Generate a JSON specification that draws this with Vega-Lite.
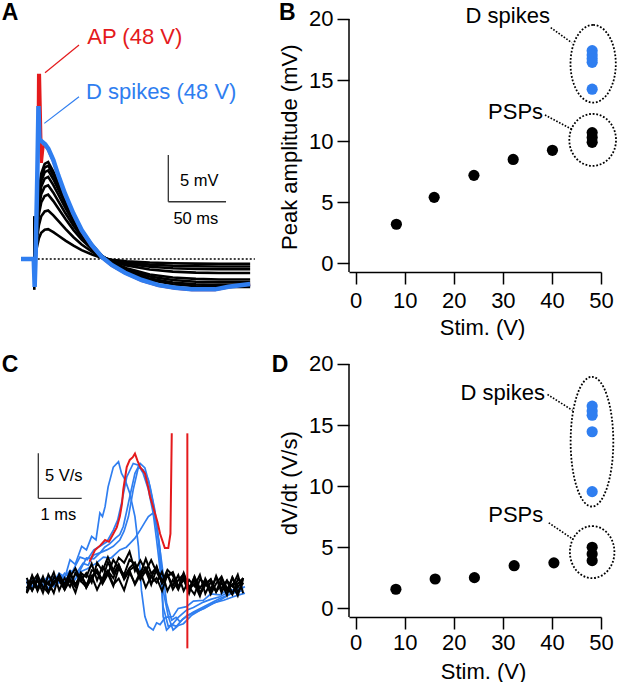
{
  "$schema": "https://vega.github.io/schema/vega-lite/v6.json",
  "padding": 0,
  "background": "white",
  "config": {
    "view": {"stroke": null},
    "font": "Liberation Sans",
    "axis": {
      "domainColor": "black", "tickColor": "black", "labelColor": "black", "titleColor": "black",
      "labelFont": "Liberation Sans", "titleFont": "Liberation Sans",
      "labelFontSize": 22, "titleFontSize": 22, "titleFontWeight": "normal",
      "tickSize": 12, "tickWidth": 1.5, "domainWidth": 1.5, "grid": false,
      "labelFlush": false, "labelOverlap": false
    }
  },
  "columns": 2,
  "spacing": {"row": 68, "column": 79},
  "bounds": "flush",
  "concat": [
    {
      "width": 270, "height": 272,
      "encoding": {
        "x": {"field": "t", "type": "quantitative", "scale": {"domain": [-29.72, 204.2], "nice": false, "zero": false}, "axis": null},
        "y": {"field": "v", "type": "quantitative", "scale": {"domain": [-1.39, 27.76], "nice": false, "zero": false}, "axis": null}
      },
      "layer": [
        {"data": {"name": "Alines"}, "transform": [{"filter": "datum.k=='base'"}], "mark": {"type": "rule", "color": "black", "strokeWidth": 1.5, "strokeDash": [2, 2]}, "encoding": {"x2": {"field": "t2"}, "y2": {"field": "v2"}}},
        {"data": {"name": "Ablack"}, "mark": {"type": "line", "color": "black", "strokeWidth": 2.6}, "encoding": {"detail": {"field": "s"}}},
        {"data": {"name": "Ared"}, "mark": {"type": "line", "color": "#e41a1c", "strokeWidth": 3}, "encoding": {"detail": {"field": "s"}}},
        {"data": {"name": "Ablue"}, "mark": {"type": "line", "color": "#2f7ef0", "strokeWidth": 4.5}, "encoding": {"detail": {"field": "s"}}},
        {"data": {"name": "Alines"}, "transform": [{"filter": "datum.k=='red'"}], "mark": {"type": "rule", "color": "#e41a1c", "strokeWidth": 1.2}, "encoding": {"x2": {"field": "t2"}, "y2": {"field": "v2"}}},
        {"data": {"name": "Alines"}, "transform": [{"filter": "datum.k=='blue'"}], "mark": {"type": "rule", "color": "#2f7ef0", "strokeWidth": 1.2}, "encoding": {"x2": {"field": "t2"}, "y2": {"field": "v2"}}},
        {"data": {"name": "Alines"}, "transform": [{"filter": "datum.k=='bar'"}], "mark": {"type": "rule", "color": "#333333", "strokeWidth": 1.3}, "encoding": {"x2": {"field": "t2"}, "y2": {"field": "v2"}}},
        {"data": {"name": "Atext"}, "transform": [{"filter": "datum.k=='red'"}], "mark": {"type": "text", "align": "left", "baseline": "middle", "fontSize": 22, "color": "#e41a1c"}, "encoding": {"text": {"field": "label"}}},
        {"data": {"name": "Atext"}, "transform": [{"filter": "datum.k=='blue'"}], "mark": {"type": "text", "align": "left", "baseline": "middle", "fontSize": 22, "color": "#2f7ef0"}, "encoding": {"text": {"field": "label"}}},
        {"data": {"name": "Atext"}, "transform": [{"filter": "datum.k=='bar'"}], "mark": {"type": "text", "align": "left", "baseline": "middle", "fontSize": 16.5, "color": "black"}, "encoding": {"text": {"field": "label"}}},
        {"data": {"name": "Atext"}, "transform": [{"filter": "datum.k=='barc'"}], "mark": {"type": "text", "align": "center", "baseline": "middle", "fontSize": 16.5, "color": "black"}, "encoding": {"text": {"field": "label"}}},
        {"data": {"name": "Atext"}, "transform": [{"filter": "datum.k=='letter'"}], "mark": {"type": "text", "align": "left", "baseline": "middle", "fontSize": 23, "fontWeight": "bold", "color": "black"}, "encoding": {"text": {"field": "label"}}}
      ]
    },
    {
      "width": 252, "height": 272,
      "encoding": {
        "x": {"field": "x", "type": "quantitative", "scale": {"domain": [-1.36, 50], "nice": false, "zero": false},
              "axis": {"values": [0, 10, 20, 30, 40, 50], "title": "Stim. (V)", "labelPadding": 6, "titleX": 133, "titleY": 55, "titleAlign": "center", "titleBaseline": "middle"}},
        "y": {"field": "y", "type": "quantitative", "scale": {"domain": [-0.71, 21.55], "nice": false, "zero": false},
              "axis": {"values": [0, 5, 10, 15, 20], "domain": false, "title": "Peak amplitude (mV)", "labelPadding": 4, "titleX": -60, "titleY": 146.7, "titleAlign": "center", "titleBaseline": "middle"}}
      },
      "layer": [
        {"data": {"name": "Blines"}, "transform": [{"filter": "datum.k=='axis'"}], "mark": {"type": "rule", "color": "black", "strokeWidth": 1.5}, "encoding": {"x2": {"field": "x2"}, "y2": {"field": "y2"}}},
        {"data": {"name": "Blines"}, "transform": [{"filter": "datum.k=='lead'"}], "mark": {"type": "rule", "color": "black", "strokeWidth": 1.6, "strokeDash": [1.6, 1.6]}, "encoding": {"x2": {"field": "x2"}, "y2": {"field": "y2"}}},
        {"data": {"name": "Bell"}, "transform": [{"filter": "datum.k=='spikes'"}], "mark": {"type": "point", "shape": "M0,-1A0.583,1,0,0,1,0,1A0.583,1,0,0,1,0,-1Z", "size": 6037, "filled": false, "color": "black", "strokeWidth": 1.8, "strokeDash": [1.8, 1.8], "opacity": 1}},
        {"data": {"name": "Bell"}, "transform": [{"filter": "datum.k=='PSPs'"}], "mark": {"type": "point", "shape": "M0,-1A0.898,1,0,0,1,0,1A0.898,1,0,0,1,0,-1Z", "size": 2704, "filled": false, "color": "black", "strokeWidth": 1.8, "strokeDash": [1.8, 1.8], "opacity": 1}},
        {"data": {"name": "Bpts"}, "mark": {"type": "circle", "size": 125, "opacity": 1},
         "encoding": {"color": {"field": "g", "type": "nominal", "scale": {"domain": ["PSP", "spike"], "range": ["black", "#2f7ef0"]}, "legend": null}}},
        {"data": {"name": "Btext"}, "transform": [{"filter": "datum.k=='note'"}], "mark": {"type": "text", "align": "right", "baseline": "middle", "fontSize": 22, "color": "black"}, "encoding": {"text": {"field": "label"}}},
        {"data": {"name": "Btext"}, "transform": [{"filter": "datum.k=='letter'"}], "mark": {"type": "text", "align": "left", "baseline": "middle", "fontSize": 23, "fontWeight": "bold", "color": "black"}, "encoding": {"text": {"field": "label"}}}
      ]
    },
    {
      "width": 270, "height": 277,
      "encoding": {
        "x": {"field": "t", "type": "quantitative", "scale": {"domain": [-0.617, 5.619], "nice": false, "zero": false}, "axis": null},
        "y": {"field": "v", "type": "quantitative", "scale": {"domain": [-3.556, 27.22], "nice": false, "zero": false}, "axis": null}
      },
      "layer": [
        {"data": {"name": "Cblue"}, "mark": {"type": "line", "color": "#2f7ef0", "strokeWidth": 1.7}, "encoding": {"detail": {"field": "s"}}},
        {"data": {"name": "Cblack"}, "mark": {"type": "line", "color": "black", "strokeWidth": 2}, "encoding": {"detail": {"field": "s"}}},
        {"data": {"name": "Cred"}, "mark": {"type": "line", "color": "#e41a1c", "strokeWidth": 2}, "encoding": {"detail": {"field": "s"}}},
        {"data": {"name": "Clines"}, "mark": {"type": "rule", "color": "#333333", "strokeWidth": 1.3}, "encoding": {"x2": {"field": "t2"}, "y2": {"field": "v2"}}},
        {"data": {"name": "Ctext"}, "transform": [{"filter": "datum.k=='bar'"}], "mark": {"type": "text", "align": "left", "baseline": "middle", "fontSize": 16.5, "color": "black"}, "encoding": {"text": {"field": "label"}}},
        {"data": {"name": "Ctext"}, "transform": [{"filter": "datum.k=='barc'"}], "mark": {"type": "text", "align": "center", "baseline": "middle", "fontSize": 16.5, "color": "black"}, "encoding": {"text": {"field": "label"}}},
        {"data": {"name": "Ctext"}, "transform": [{"filter": "datum.k=='letter'"}], "mark": {"type": "text", "align": "left", "baseline": "middle", "fontSize": 23, "fontWeight": "bold", "color": "black"}, "encoding": {"text": {"field": "label"}}}
      ]
    },
    {
      "width": 252, "height": 277,
      "encoding": {
        "x": {"field": "x", "type": "quantitative", "scale": {"domain": [-1.36, 50], "nice": false, "zero": false},
              "axis": {"values": [0, 10, 20, 30, 40, 50], "title": "Stim. (V)", "labelPadding": 3, "titleX": 134, "titleY": 54, "titleAlign": "center", "titleBaseline": "middle"}},
        "y": {"field": "y", "type": "quantitative", "scale": {"domain": [-0.71, 21.96], "nice": false, "zero": false},
              "axis": {"values": [0, 5, 10, 15, 20], "domain": false, "title": "dV/dt (V/s)", "labelPadding": 4, "titleX": -60, "titleY": 142.7, "titleAlign": "center", "titleBaseline": "middle"}}
      },
      "layer": [
        {"data": {"name": "Dlines"}, "transform": [{"filter": "datum.k=='axis'"}], "mark": {"type": "rule", "color": "black", "strokeWidth": 1.5}, "encoding": {"x2": {"field": "x2"}, "y2": {"field": "y2"}}},
        {"data": {"name": "Dlines"}, "transform": [{"filter": "datum.k=='lead'"}], "mark": {"type": "rule", "color": "black", "strokeWidth": 1.6, "strokeDash": [1.6, 1.6]}, "encoding": {"x2": {"field": "x2"}, "y2": {"field": "y2"}}},
        {"data": {"name": "Dell"}, "transform": [{"filter": "datum.k=='spikes'"}], "mark": {"type": "point", "shape": "M0,-1A0.329,1,0,0,1,0,1A0.329,1,0,0,1,0,-1Z", "size": 16822, "filled": false, "color": "black", "strokeWidth": 1.8, "strokeDash": [1.8, 1.8], "opacity": 1}},
        {"data": {"name": "Dell"}, "transform": [{"filter": "datum.k=='PSPs'"}], "mark": {"type": "point", "shape": "M0,-1A0.856,1,0,0,1,0,1A0.856,1,0,0,1,0,-1Z", "size": 2704, "filled": false, "color": "black", "strokeWidth": 1.8, "strokeDash": [1.8, 1.8], "opacity": 1}},
        {"data": {"name": "Dpts"}, "mark": {"type": "circle", "size": 125, "opacity": 1},
         "encoding": {"color": {"field": "g", "type": "nominal", "scale": {"domain": ["PSP", "spike"], "range": ["black", "#2f7ef0"]}, "legend": null}}},
        {"data": {"name": "Dtext"}, "transform": [{"filter": "datum.k=='note'"}], "mark": {"type": "text", "align": "right", "baseline": "middle", "fontSize": 22, "color": "black"}, "encoding": {"text": {"field": "label"}}},
        {"data": {"name": "Dtext"}, "transform": [{"filter": "datum.k=='letter'"}], "mark": {"type": "text", "align": "left", "baseline": "middle", "fontSize": 23, "fontWeight": "bold", "color": "black"}, "encoding": {"text": {"field": "label"}}}
      ]
    }
  ],
  "datasets": {
    "Alines": [
      {"k": "base", "t": -10.9, "v": 0, "t2": 191.1, "v2": 0},
      {"k": "red", "t": 9.27, "v": 19.97, "t2": 38.74, "v2": 22.94},
      {"k": "blue", "t": 8.67, "v": 14.54, "t2": 38.74, "v2": 17.4},
      {"k": "bar", "t": 116.1, "v": 11.15, "t2": 116.1, "v2": 6.14},
      {"k": "bar", "t": 116.1, "v": 6.14, "t2": 166.1, "v2": 6.14}
    ],
    "Atext": [
      {"k": "red", "label": "AP (48 V)", "t": 45.9, "v": 23.78},
      {"k": "blue", "label": "D spikes (48 V)", "t": 44.8, "v": 17.85},
      {"k": "bar", "label": "5 mV", "t": 126.3, "v": 8.41},
      {"k": "barc", "label": "50 ms", "t": 140.0, "v": 4.31},
      {"k": "letter", "label": "A", "t": -28.25, "v": 26.37}
    ],
    "Ablack": [
      {"s": "stim", "t": 0, "v": 4.6}, {"s": "stim", "t": 0, "v": -3.3},
      {"s": "b1", "t": -11.5, "v": 0}, {"s": "b1", "t": -0.5, "v": 0}, {"s": "b1", "t": 0.5, "v": 0}, {"s": "b1", "t": 2, "v": 1.12}, {"s": "b1", "t": 4, "v": 2.24}, {"s": "b1", "t": 6, "v": 2.82}, {"s": "b1", "t": 9, "v": 3.14}, {"s": "b1", "t": 12, "v": 3.2}, {"s": "b1", "t": 16.5, "v": 2.88}, {"s": "b1", "t": 21, "v": 2.5}, {"s": "b1", "t": 27, "v": 1.98}, {"s": "b1", "t": 34, "v": 1.44}, {"s": "b1", "t": 41, "v": 0.96}, {"s": "b1", "t": 50, "v": 0.48}, {"s": "b1", "t": 58, "v": 0.13}, {"s": "b1", "t": 67, "v": -0.08}, {"s": "b1", "t": 80, "v": -0.23}, {"s": "b1", "t": 100, "v": -0.38}, {"s": "b1", "t": 120, "v": -0.45}, {"s": "b1", "t": 140, "v": -0.49}, {"s": "b1", "t": 160, "v": -0.5}, {"s": "b1", "t": 187, "v": -0.5},
      {"s": "b2", "t": -11.5, "v": 0}, {"s": "b2", "t": -0.5, "v": 0}, {"s": "b2", "t": 0.5, "v": 0}, {"s": "b2", "t": 2, "v": 1.82}, {"s": "b2", "t": 4, "v": 3.64}, {"s": "b2", "t": 6, "v": 4.58}, {"s": "b2", "t": 9, "v": 5.1}, {"s": "b2", "t": 12, "v": 5.2}, {"s": "b2", "t": 16.5, "v": 4.68}, {"s": "b2", "t": 21, "v": 4.06}, {"s": "b2", "t": 27, "v": 3.22}, {"s": "b2", "t": 34, "v": 2.34}, {"s": "b2", "t": 41, "v": 1.56}, {"s": "b2", "t": 50, "v": 0.78}, {"s": "b2", "t": 58, "v": 0.21}, {"s": "b2", "t": 67, "v": -0.12}, {"s": "b2", "t": 80, "v": -0.36}, {"s": "b2", "t": 100, "v": -0.6}, {"s": "b2", "t": 120, "v": -0.72}, {"s": "b2", "t": 140, "v": -0.78}, {"s": "b2", "t": 160, "v": -0.8}, {"s": "b2", "t": 187, "v": -0.8},
      {"s": "b3", "t": -11.5, "v": 0}, {"s": "b3", "t": -0.5, "v": 0}, {"s": "b3", "t": 0.5, "v": 0}, {"s": "b3", "t": 2, "v": 2.42}, {"s": "b3", "t": 4, "v": 4.83}, {"s": "b3", "t": 6, "v": 6.07}, {"s": "b3", "t": 9, "v": 6.76}, {"s": "b3", "t": 12, "v": 6.9}, {"s": "b3", "t": 16.5, "v": 6.21}, {"s": "b3", "t": 21, "v": 5.38}, {"s": "b3", "t": 27, "v": 4.28}, {"s": "b3", "t": 34, "v": 3.1}, {"s": "b3", "t": 41, "v": 2.07}, {"s": "b3", "t": 50, "v": 1.04}, {"s": "b3", "t": 58, "v": 0.28}, {"s": "b3", "t": 67, "v": -0.17}, {"s": "b3", "t": 80, "v": -0.5}, {"s": "b3", "t": 100, "v": -0.83}, {"s": "b3", "t": 120, "v": -0.99}, {"s": "b3", "t": 140, "v": -1.07}, {"s": "b3", "t": 160, "v": -1.1}, {"s": "b3", "t": 187, "v": -1.1},
      {"s": "b4", "t": -11.5, "v": 0}, {"s": "b4", "t": -0.5, "v": 0}, {"s": "b4", "t": 0.5, "v": 0}, {"s": "b4", "t": 2, "v": 2.77}, {"s": "b4", "t": 4, "v": 5.53}, {"s": "b4", "t": 6, "v": 6.95}, {"s": "b4", "t": 9, "v": 7.74}, {"s": "b4", "t": 12, "v": 7.9}, {"s": "b4", "t": 16.5, "v": 7.11}, {"s": "b4", "t": 21, "v": 6.16}, {"s": "b4", "t": 27, "v": 4.9}, {"s": "b4", "t": 34, "v": 3.56}, {"s": "b4", "t": 41, "v": 2.37}, {"s": "b4", "t": 50, "v": 1.19}, {"s": "b4", "t": 58, "v": 0.32}, {"s": "b4", "t": 67, "v": -0.23}, {"s": "b4", "t": 80, "v": -0.68}, {"s": "b4", "t": 100, "v": -1.13}, {"s": "b4", "t": 120, "v": -1.35}, {"s": "b4", "t": 140, "v": -1.46}, {"s": "b4", "t": 160, "v": -1.5}, {"s": "b4", "t": 187, "v": -1.5},
      {"s": "b5", "t": -11.5, "v": 0}, {"s": "b5", "t": -0.5, "v": 0}, {"s": "b5", "t": 0.5, "v": 0}, {"s": "b5", "t": 2, "v": 3.08}, {"s": "b5", "t": 4, "v": 6.16}, {"s": "b5", "t": 6, "v": 7.74}, {"s": "b5", "t": 9, "v": 8.62}, {"s": "b5", "t": 12, "v": 8.8}, {"s": "b5", "t": 16.5, "v": 7.92}, {"s": "b5", "t": 21, "v": 6.86}, {"s": "b5", "t": 27, "v": 5.46}, {"s": "b5", "t": 34, "v": 3.96}, {"s": "b5", "t": 41, "v": 2.64}, {"s": "b5", "t": 50, "v": 1.32}, {"s": "b5", "t": 58, "v": 0.35}, {"s": "b5", "t": 67, "v": -0.33}, {"s": "b5", "t": 80, "v": -0.99}, {"s": "b5", "t": 100, "v": -1.65}, {"s": "b5", "t": 120, "v": -1.98}, {"s": "b5", "t": 140, "v": -2.13}, {"s": "b5", "t": 160, "v": -2.2}, {"s": "b5", "t": 187, "v": -2.2},
      {"s": "b6", "t": -11.5, "v": 0}, {"s": "b6", "t": -0.5, "v": 0}, {"s": "b6", "t": 0.5, "v": 0}, {"s": "b6", "t": 2, "v": 3.33}, {"s": "b6", "t": 4, "v": 6.65}, {"s": "b6", "t": 6, "v": 8.36}, {"s": "b6", "t": 9, "v": 9.31}, {"s": "b6", "t": 12, "v": 9.5}, {"s": "b6", "t": 16.5, "v": 8.55}, {"s": "b6", "t": 21, "v": 7.41}, {"s": "b6", "t": 27, "v": 5.89}, {"s": "b6", "t": 34, "v": 4.28}, {"s": "b6", "t": 41, "v": 2.85}, {"s": "b6", "t": 50, "v": 1.43}, {"s": "b6", "t": 58, "v": 0.38}, {"s": "b6", "t": 67, "v": -0.38}, {"s": "b6", "t": 80, "v": -1.13}, {"s": "b6", "t": 100, "v": -1.88}, {"s": "b6", "t": 120, "v": -2.25}, {"s": "b6", "t": 140, "v": -2.43}, {"s": "b6", "t": 160, "v": -2.5}, {"s": "b6", "t": 187, "v": -2.5},
      {"s": "b7", "t": -11.5, "v": 0}, {"s": "b7", "t": -0.5, "v": 0}, {"s": "b7", "t": 0.5, "v": 0}, {"s": "b7", "t": 2, "v": 3.5}, {"s": "b7", "t": 4, "v": 7.0}, {"s": "b7", "t": 6, "v": 8.8}, {"s": "b7", "t": 9, "v": 9.8}, {"s": "b7", "t": 12, "v": 10.0}, {"s": "b7", "t": 16.5, "v": 9.0}, {"s": "b7", "t": 21, "v": 7.8}, {"s": "b7", "t": 27, "v": 6.2}, {"s": "b7", "t": 34, "v": 4.5}, {"s": "b7", "t": 41, "v": 3.0}, {"s": "b7", "t": 50, "v": 1.5}, {"s": "b7", "t": 58, "v": 0.4}, {"s": "b7", "t": 67, "v": -0.42}, {"s": "b7", "t": 80, "v": -1.26}, {"s": "b7", "t": 100, "v": -2.1}, {"s": "b7", "t": 120, "v": -2.52}, {"s": "b7", "t": 140, "v": -2.72}, {"s": "b7", "t": 160, "v": -2.8}, {"s": "b7", "t": 187, "v": -2.8},
      {"s": "b8", "t": -11.5, "v": 0}, {"s": "b8", "t": -0.5, "v": 0}, {"s": "b8", "t": 0.5, "v": 0}, {"s": "b8", "t": 2, "v": 3.64}, {"s": "b8", "t": 4, "v": 7.28}, {"s": "b8", "t": 6, "v": 9.15}, {"s": "b8", "t": 9, "v": 10.19}, {"s": "b8", "t": 12, "v": 10.4}, {"s": "b8", "t": 16.5, "v": 9.36}, {"s": "b8", "t": 21, "v": 8.11}, {"s": "b8", "t": 27, "v": 6.45}, {"s": "b8", "t": 34, "v": 4.68}, {"s": "b8", "t": 41, "v": 3.12}, {"s": "b8", "t": 50, "v": 1.56}, {"s": "b8", "t": 58, "v": 0.42}, {"s": "b8", "t": 67, "v": -0.45}, {"s": "b8", "t": 80, "v": -1.35}, {"s": "b8", "t": 100, "v": -2.25}, {"s": "b8", "t": 120, "v": -2.7}, {"s": "b8", "t": 140, "v": -2.91}, {"s": "b8", "t": 160, "v": -3.0}, {"s": "b8", "t": 187, "v": -3.0}
    ],
    "Ared": [
      {"s": "r", "t": 0.3, "v": -3.0}, {"s": "r", "t": 1.2, "v": 0.5}, {"s": "r", "t": 3.2, "v": 12}, {"s": "r", "t": 3.6, "v": 19.7}, {"s": "r", "t": 4.6, "v": 19.7}, {"s": "r", "t": 6.2, "v": 10.3}, {"s": "r", "t": 7.6, "v": 12.0}, {"s": "r", "t": 9.4, "v": 12.2}, {"s": "r", "t": 12.2, "v": 11.7}, {"s": "r", "t": 16.5, "v": 10.5}, {"s": "r", "t": 20.8, "v": 8.9}, {"s": "r", "t": 26.6, "v": 6.9}, {"s": "r", "t": 33.8, "v": 4.8}, {"s": "r", "t": 41, "v": 3.0}, {"s": "r", "t": 49.7, "v": 1.4}, {"s": "r", "t": 58.4, "v": 0.2}, {"s": "r", "t": 67.1, "v": -0.7}, {"s": "r", "t": 78.6, "v": -1.5}, {"s": "r", "t": 93.1, "v": -2.3}, {"s": "r", "t": 107.6, "v": -2.85}, {"s": "r", "t": 122, "v": -3.12}, {"s": "r", "t": 136.4, "v": -3.3}, {"s": "r", "t": 156.7, "v": -3.3}, {"s": "r", "t": 168.2, "v": -3.0}, {"s": "r", "t": 187, "v": -2.7}
    ],
    "Ablue": [
      {"s": "d", "t": -11.5, "v": 0}, {"s": "d", "t": -0.5, "v": 0}, {"s": "d", "t": 0.3, "v": -3.0}, {"s": "d", "t": 1.2, "v": 0.5}, {"s": "d", "t": 2.6, "v": 9}, {"s": "d", "t": 3.6, "v": 16.4}, {"s": "d", "t": 4.4, "v": 12.9}, {"s": "d", "t": 5.5, "v": 12.7}, {"s": "d", "t": 9.4, "v": 12.3}, {"s": "d", "t": 12.2, "v": 11.8}, {"s": "d", "t": 16.5, "v": 10.6}, {"s": "d", "t": 20.8, "v": 8.97}, {"s": "d", "t": 26.6, "v": 7.0}, {"s": "d", "t": 33.8, "v": 4.9}, {"s": "d", "t": 41, "v": 3.1}, {"s": "d", "t": 49.7, "v": 1.5}, {"s": "d", "t": 58.4, "v": 0.24}, {"s": "d", "t": 67.1, "v": -0.64}, {"s": "d", "t": 78.6, "v": -1.47}, {"s": "d", "t": 93.1, "v": -2.25}, {"s": "d", "t": 107.6, "v": -2.8}, {"s": "d", "t": 122, "v": -3.08}, {"s": "d", "t": 136.4, "v": -3.25}, {"s": "d", "t": 156.7, "v": -3.25}, {"s": "d", "t": 168.2, "v": -2.97}, {"s": "d", "t": 187, "v": -2.68}
    ],
    "Bpts": [
      {"x": 8.3, "y": 3.2, "g": "PSP"}, {"x": 16.0, "y": 5.4, "g": "PSP"}, {"x": 24.1, "y": 7.2, "g": "PSP"}, {"x": 32.1, "y": 8.5, "g": "PSP"}, {"x": 40.1, "y": 9.25, "g": "PSP"},
      {"x": 48.2, "y": 10.7, "g": "PSP"}, {"x": 48.2, "y": 10.3, "g": "PSP"}, {"x": 48.2, "y": 9.9, "g": "PSP"},
      {"x": 48.2, "y": 17.4, "g": "spike"}, {"x": 48.2, "y": 17.05, "g": "spike"}, {"x": 48.2, "y": 16.75, "g": "spike"}, {"x": 48.2, "y": 16.45, "g": "spike"}, {"x": 48.2, "y": 14.25, "g": "spike"}
    ],
    "Bell": [{"k": "spikes", "x": 48.4, "y": 16.33}, {"k": "PSPs", "x": 48.3, "y": 10.1}],
    "Blines": [
      {"k": "axis", "x": -1.36, "y": -0.71, "x2": -1.36, "y2": 20},
      {"k": "lead", "x": 39.75, "y": 19.29, "x2": 44.03, "y2": 18.06},
      {"k": "lead", "x": 38.58, "y": 12.14, "x2": 44.03, "y2": 10.97}
    ],
    "Btext": [
      {"k": "note", "label": "D spikes", "x": 39.6, "y": 20.2},
      {"k": "note", "label": "PSPs", "x": 38.2, "y": 12.38},
      {"k": "letter", "label": "B", "x": -15.62, "y": 20.49}
    ],
    "Cblue": [
      {"s": "c1", "t": 0, "v": 0.4}, {"s": "c1", "t": 0.125, "v": -0.6}, {"s": "c1", "t": 0.25, "v": 0.5}, {"s": "c1", "t": 0.375, "v": -0.3}, {"s": "c1", "t": 0.5, "v": 0.8}, {"s": "c1", "t": 0.625, "v": 0.1}, {"s": "c1", "t": 0.75, "v": 1.2}, {"s": "c1", "t": 0.875, "v": 0.7}, {"s": "c1", "t": 1.0, "v": 2.8}, {"s": "c1", "t": 1.12, "v": 2.3}, {"s": "c1", "t": 1.27, "v": 4.3}, {"s": "c1", "t": 1.38, "v": 3.9}, {"s": "c1", "t": 1.5, "v": 5.4}, {"s": "c1", "t": 1.6, "v": 5.0}, {"s": "c1", "t": 1.69, "v": 8.0}, {"s": "c1", "t": 1.75, "v": 7.6}, {"s": "c1", "t": 1.81, "v": 8.7}, {"s": "c1", "t": 1.88, "v": 10.9}, {"s": "c1", "t": 2.0, "v": 13.1}, {"s": "c1", "t": 2.12, "v": 13.7}, {"s": "c1", "t": 2.19, "v": 12.4}, {"s": "c1", "t": 2.27, "v": 11.7}, {"s": "c1", "t": 2.38, "v": 10.2}, {"s": "c1", "t": 2.5, "v": 7.6}, {"s": "c1", "t": 2.58, "v": 4.3}, {"s": "c1", "t": 2.65, "v": -0.6}, {"s": "c1", "t": 2.73, "v": -3.5}, {"s": "c1", "t": 2.81, "v": -4.6}, {"s": "c1", "t": 2.92, "v": -5.0}, {"s": "c1", "t": 3.0, "v": -4.2}, {"s": "c1", "t": 3.08, "v": -4.4}, {"s": "c1", "t": 3.2, "v": -3.6}, {"s": "c1", "t": 3.38, "v": -3.5}, {"s": "c1", "t": 3.5, "v": -2.6}, {"s": "c1", "t": 3.69, "v": -2.4}, {"s": "c1", "t": 3.85, "v": -1.8}, {"s": "c1", "t": 4.08, "v": -1.7}, {"s": "c1", "t": 4.25, "v": -1.0}, {"s": "c1", "t": 4.46, "v": -1.1}, {"s": "c1", "t": 4.65, "v": -0.5}, {"s": "c1", "t": 4.85, "v": -0.6}, {"s": "c1", "t": 5.04, "v": -0.2},
      {"s": "c2", "t": 0, "v": -0.3}, {"s": "c2", "t": 0.125, "v": 0.5}, {"s": "c2", "t": 0.25, "v": -0.2}, {"s": "c2", "t": 0.375, "v": 0.7}, {"s": "c2", "t": 0.5, "v": 0.1}, {"s": "c2", "t": 0.625, "v": 0.9}, {"s": "c2", "t": 0.75, "v": 0.4}, {"s": "c2", "t": 0.875, "v": 1.3}, {"s": "c2", "t": 1.0, "v": 0.9}, {"s": "c2", "t": 1.12, "v": 2.1}, {"s": "c2", "t": 1.23, "v": 3.1}, {"s": "c2", "t": 1.4, "v": 2.8}, {"s": "c2", "t": 1.55, "v": 3.9}, {"s": "c2", "t": 1.69, "v": 4.3}, {"s": "c2", "t": 1.85, "v": 4.8}, {"s": "c2", "t": 2.0, "v": 6.1}, {"s": "c2", "t": 2.1, "v": 7.2}, {"s": "c2", "t": 2.19, "v": 9.1}, {"s": "c2", "t": 2.31, "v": 12.0}, {"s": "c2", "t": 2.46, "v": 13.5}, {"s": "c2", "t": 2.58, "v": 13.3}, {"s": "c2", "t": 2.69, "v": 12.4}, {"s": "c2", "t": 2.81, "v": 10.6}, {"s": "c2", "t": 2.92, "v": 8.0}, {"s": "c2", "t": 3.0, "v": 5.0}, {"s": "c2", "t": 3.08, "v": 1.7}, {"s": "c2", "t": 3.15, "v": -2.4}, {"s": "c2", "t": 3.27, "v": -4.6}, {"s": "c2", "t": 3.38, "v": -4.3}, {"s": "c2", "t": 3.5, "v": -3.6}, {"s": "c2", "t": 3.69, "v": -2.8}, {"s": "c2", "t": 3.85, "v": -2.5}, {"s": "c2", "t": 4.08, "v": -1.9}, {"s": "c2", "t": 4.25, "v": -1.6}, {"s": "c2", "t": 4.46, "v": -1.3}, {"s": "c2", "t": 4.7, "v": -0.7}, {"s": "c2", "t": 5.0, "v": -0.4},
      {"s": "c3", "t": 0, "v": 0.2}, {"s": "c3", "t": 0.125, "v": -0.5}, {"s": "c3", "t": 0.25, "v": 0.6}, {"s": "c3", "t": 0.375, "v": 0.0}, {"s": "c3", "t": 0.5, "v": 0.4}, {"s": "c3", "t": 0.625, "v": -0.2}, {"s": "c3", "t": 0.75, "v": 0.8}, {"s": "c3", "t": 0.875, "v": 0.3}, {"s": "c3", "t": 1.0, "v": 1.0}, {"s": "c3", "t": 1.12, "v": 0.6}, {"s": "c3", "t": 1.25, "v": 1.8}, {"s": "c3", "t": 1.38, "v": 3.0}, {"s": "c3", "t": 1.55, "v": 2.9}, {"s": "c3", "t": 1.7, "v": 3.6}, {"s": "c3", "t": 1.85, "v": 3.9}, {"s": "c3", "t": 2.0, "v": 4.3}, {"s": "c3", "t": 2.15, "v": 5.0}, {"s": "c3", "t": 2.25, "v": 6.0}, {"s": "c3", "t": 2.35, "v": 7.6}, {"s": "c3", "t": 2.46, "v": 10.6}, {"s": "c3", "t": 2.58, "v": 13.1}, {"s": "c3", "t": 2.69, "v": 12.8}, {"s": "c3", "t": 2.81, "v": 11.7}, {"s": "c3", "t": 2.92, "v": 9.1}, {"s": "c3", "t": 3.04, "v": 5.0}, {"s": "c3", "t": 3.12, "v": 0.6}, {"s": "c3", "t": 3.15, "v": -3.5}, {"s": "c3", "t": 3.23, "v": -5.0}, {"s": "c3", "t": 3.35, "v": -4.4}, {"s": "c3", "t": 3.46, "v": -4.6}, {"s": "c3", "t": 3.6, "v": -3.8}, {"s": "c3", "t": 3.85, "v": -3.0}, {"s": "c3", "t": 4.1, "v": -2.4}, {"s": "c3", "t": 4.3, "v": -1.9}, {"s": "c3", "t": 4.46, "v": -1.5}, {"s": "c3", "t": 4.7, "v": -1.0}, {"s": "c3", "t": 5.0, "v": -0.6},
      {"s": "c4", "t": 0, "v": -0.5}, {"s": "c4", "t": 0.125, "v": 0.3}, {"s": "c4", "t": 0.25, "v": -0.1}, {"s": "c4", "t": 0.375, "v": 0.5}, {"s": "c4", "t": 0.5, "v": -0.4}, {"s": "c4", "t": 0.625, "v": 0.6}, {"s": "c4", "t": 0.75, "v": 0.2}, {"s": "c4", "t": 0.875, "v": 0.9}, {"s": "c4", "t": 1.0, "v": 0.5}, {"s": "c4", "t": 1.2, "v": 1.4}, {"s": "c4", "t": 1.4, "v": 1.8}, {"s": "c4", "t": 1.6, "v": 2.4}, {"s": "c4", "t": 1.77, "v": 3.1}, {"s": "c4", "t": 1.95, "v": 3.0}, {"s": "c4", "t": 2.15, "v": 3.9}, {"s": "c4", "t": 2.3, "v": 4.2}, {"s": "c4", "t": 2.38, "v": 4.6}, {"s": "c4", "t": 2.5, "v": 5.2}, {"s": "c4", "t": 2.62, "v": 6.1}, {"s": "c4", "t": 2.72, "v": 6.9}, {"s": "c4", "t": 2.81, "v": 7.6}, {"s": "c4", "t": 2.92, "v": 8.0}, {"s": "c4", "t": 3.0, "v": 6.5}, {"s": "c4", "t": 3.12, "v": 2.4}, {"s": "c4", "t": 3.23, "v": -2.0}, {"s": "c4", "t": 3.35, "v": -3.9}, {"s": "c4", "t": 3.45, "v": -3.6}, {"s": "c4", "t": 3.54, "v": -4.1}, {"s": "c4", "t": 3.7, "v": -3.4}, {"s": "c4", "t": 3.85, "v": -3.1}, {"s": "c4", "t": 4.1, "v": -2.6}, {"s": "c4", "t": 4.31, "v": -2.0}, {"s": "c4", "t": 4.55, "v": -1.7}, {"s": "c4", "t": 4.77, "v": -1.3}, {"s": "c4", "t": 5.04, "v": -0.9},
      {"s": "c5", "t": 0, "v": 0.6}, {"s": "c5", "t": 0.125, "v": -0.2}, {"s": "c5", "t": 0.25, "v": 0.9}, {"s": "c5", "t": 0.375, "v": 0.3}, {"s": "c5", "t": 0.5, "v": 1.0}, {"s": "c5", "t": 0.625, "v": 0.4}, {"s": "c5", "t": 0.75, "v": 1.3}, {"s": "c5", "t": 0.875, "v": 0.9}, {"s": "c5", "t": 1.0, "v": 1.6}, {"s": "c5", "t": 1.15, "v": 1.3}, {"s": "c5", "t": 1.3, "v": 2.4}, {"s": "c5", "t": 1.42, "v": 2.2}, {"s": "c5", "t": 1.54, "v": 3.3}, {"s": "c5", "t": 1.7, "v": 3.6}, {"s": "c5", "t": 1.8, "v": 4.2}, {"s": "c5", "t": 1.92, "v": 4.6}, {"s": "c5", "t": 2.05, "v": 5.2}, {"s": "c5", "t": 2.15, "v": 5.6}, {"s": "c5", "t": 2.23, "v": 6.5}, {"s": "c5", "t": 2.3, "v": 8.0}, {"s": "c5", "t": 2.38, "v": 9.8}, {"s": "c5", "t": 2.5, "v": 12.4}, {"s": "c5", "t": 2.62, "v": 13.5}, {"s": "c5", "t": 2.73, "v": 13.0}, {"s": "c5", "t": 2.85, "v": 10.9}, {"s": "c5", "t": 2.96, "v": 8.3}, {"s": "c5", "t": 3.08, "v": 3.9}, {"s": "c5", "t": 3.15, "v": -0.6}, {"s": "c5", "t": 3.27, "v": -3.5}, {"s": "c5", "t": 3.38, "v": -5.0}, {"s": "c5", "t": 3.5, "v": -4.5}, {"s": "c5", "t": 3.62, "v": -4.3}, {"s": "c5", "t": 3.8, "v": -3.4}, {"s": "c5", "t": 4.0, "v": -2.8}, {"s": "c5", "t": 4.2, "v": -2.3}, {"s": "c5", "t": 4.46, "v": -1.7}, {"s": "c5", "t": 4.7, "v": -1.0}, {"s": "c5", "t": 5.0, "v": -0.2}
    ],
    "Cblack": [
      {"s": "k0", "t": 0, "v": 0.78}, {"s": "k0", "t": 0.125, "v": -0.6}, {"s": "k0", "t": 0.25, "v": 0.52}, {"s": "k0", "t": 0.375, "v": -0.86}, {"s": "k0", "t": 0.5, "v": 1.17}, {"s": "k0", "t": 0.625, "v": 0.08}, {"s": "k0", "t": 0.75, "v": 1.09}, {"s": "k0", "t": 0.875, "v": -0.36}, {"s": "k0", "t": 1, "v": 0.91}, {"s": "k0", "t": 1.125, "v": 1.85}, {"s": "k0", "t": 1.25, "v": 0.47}, {"s": "k0", "t": 1.375, "v": 1.33}, {"s": "k0", "t": 1.5, "v": 0.26}, {"s": "k0", "t": 1.625, "v": 2.47}, {"s": "k0", "t": 1.75, "v": 1.56}, {"s": "k0", "t": 1.875, "v": 3.09}, {"s": "k0", "t": 2, "v": 1.61}, {"s": "k0", "t": 2.125, "v": 3.04}, {"s": "k0", "t": 2.25, "v": 2.47}, {"s": "k0", "t": 2.375, "v": 3.72}, {"s": "k0", "t": 2.5, "v": 1.56}, {"s": "k0", "t": 2.625, "v": 2.73}, {"s": "k0", "t": 2.75, "v": 1.56}, {"s": "k0", "t": 2.875, "v": 2.76}, {"s": "k0", "t": 3, "v": 1.43}, {"s": "k0", "t": 3.125, "v": 0.31}, {"s": "k0", "t": 3.25, "v": 1.69}, {"s": "k0", "t": 3.375, "v": 1.04}, {"s": "k0", "t": 3.5, "v": -0.26}, {"s": "k0", "t": 3.625, "v": 1.35}, {"s": "k0", "t": 3.75, "v": -0.26}, {"s": "k0", "t": 3.875, "v": 0.52}, {"s": "k0", "t": 4, "v": -1.04}, {"s": "k0", "t": 4.125, "v": -0.03}, {"s": "k0", "t": 4.25, "v": 0.62}, {"s": "k0", "t": 4.375, "v": -0.78}, {"s": "k0", "t": 4.5, "v": 0.26}, {"s": "k0", "t": 4.625, "v": -0.62}, {"s": "k0", "t": 4.75, "v": 0.83}, {"s": "k0", "t": 4.875, "v": -0.81}, {"s": "k0", "t": 5, "v": 0.26},
      {"s": "k1", "t": 0, "v": -0.91}, {"s": "k1", "t": 0.125, "v": 0.3}, {"s": "k1", "t": 0.25, "v": 1.15}, {"s": "k1", "t": 0.375, "v": -0.37}, {"s": "k1", "t": 0.5, "v": 0.35}, {"s": "k1", "t": 0.625, "v": -0.88}, {"s": "k1", "t": 0.75, "v": 1.15}, {"s": "k1", "t": 0.875, "v": 0.07}, {"s": "k1", "t": 1, "v": 1.46}, {"s": "k1", "t": 1.125, "v": -0.1}, {"s": "k1", "t": 1.25, "v": 1.36}, {"s": "k1", "t": 1.375, "v": 0.88}, {"s": "k1", "t": 1.5, "v": 2.38}, {"s": "k1", "t": 1.625, "v": 0.52}, {"s": "k1", "t": 1.75, "v": 2.04}, {"s": "k1", "t": 1.875, "v": 1.2}, {"s": "k1", "t": 2, "v": 2.8}, {"s": "k1", "t": 2.125, "v": 1.87}, {"s": "k1", "t": 2.25, "v": 1.16}, {"s": "k1", "t": 2.375, "v": 2.81}, {"s": "k1", "t": 2.5, "v": 2.35}, {"s": "k1", "t": 2.625, "v": 1.2}, {"s": "k1", "t": 2.75, "v": 2.91}, {"s": "k1", "t": 2.875, "v": 1.28}, {"s": "k1", "t": 3, "v": 1.95}, {"s": "k1", "t": 3.125, "v": 0.23}, {"s": "k1", "t": 3.25, "v": 1.01}, {"s": "k1", "t": 3.375, "v": 1.44}, {"s": "k1", "t": 3.5, "v": -0.21}, {"s": "k1", "t": 3.625, "v": 0.65}, {"s": "k1", "t": 3.75, "v": -0.41}, {"s": "k1", "t": 3.875, "v": 0.91}, {"s": "k1", "t": 4, "v": -0.89}, {"s": "k1", "t": 4.125, "v": 0.13}, {"s": "k1", "t": 4.25, "v": 0.65}, {"s": "k1", "t": 4.375, "v": -0.76}, {"s": "k1", "t": 4.5, "v": 0.28}, {"s": "k1", "t": 4.625, "v": -1.13}, {"s": "k1", "t": 4.75, "v": 0.84}, {"s": "k1", "t": 4.875, "v": -0.28}, {"s": "k1", "t": 5, "v": 0.65},
      {"s": "k2", "t": 0, "v": -0.39}, {"s": "k2", "t": 0.125, "v": 0.95}, {"s": "k2", "t": 0.25, "v": -0.69}, {"s": "k2", "t": 0.375, "v": 0.65}, {"s": "k2", "t": 0.5, "v": 0.05}, {"s": "k2", "t": 0.625, "v": 1.4}, {"s": "k2", "t": 0.75, "v": -0.6}, {"s": "k2", "t": 0.875, "v": 0.77}, {"s": "k2", "t": 1, "v": -0.2}, {"s": "k2", "t": 1.125, "v": 1.34}, {"s": "k2", "t": 1.25, "v": 0.42}, {"s": "k2", "t": 1.375, "v": -0.21}, {"s": "k2", "t": 1.5, "v": 1.64}, {"s": "k2", "t": 1.625, "v": 1.43}, {"s": "k2", "t": 1.75, "v": 0.57}, {"s": "k2", "t": 1.875, "v": 2.55}, {"s": "k2", "t": 2, "v": 1.27}, {"s": "k2", "t": 2.125, "v": 2.27}, {"s": "k2", "t": 2.25, "v": 0.89}, {"s": "k2", "t": 2.375, "v": 1.89}, {"s": "k2", "t": 2.5, "v": 2.49}, {"s": "k2", "t": 2.625, "v": 0.97}, {"s": "k2", "t": 2.75, "v": 1.92}, {"s": "k2", "t": 2.875, "v": 0.85}, {"s": "k2", "t": 3, "v": 2.08}, {"s": "k2", "t": 3.125, "v": 0.16}, {"s": "k2", "t": 3.25, "v": 0.98}, {"s": "k2", "t": 3.375, "v": 1.32}, {"s": "k2", "t": 3.5, "v": -0.29}, {"s": "k2", "t": 3.625, "v": 0.61}, {"s": "k2", "t": 3.75, "v": -0.95}, {"s": "k2", "t": 3.875, "v": 0.91}, {"s": "k2", "t": 4, "v": -0.35}, {"s": "k2", "t": 4.125, "v": 0.54}, {"s": "k2", "t": 4.25, "v": -1.02}, {"s": "k2", "t": 4.375, "v": 0.17}, {"s": "k2", "t": 4.5, "v": 0.95}, {"s": "k2", "t": 4.625, "v": -0.59}, {"s": "k2", "t": 4.75, "v": 0.08}, {"s": "k2", "t": 4.875, "v": -1.19}, {"s": "k2", "t": 5, "v": 0.78},
      {"s": "k3", "t": 0, "v": 0.39}, {"s": "k3", "t": 0.125, "v": -0.62}, {"s": "k3", "t": 0.25, "v": 0.85}, {"s": "k3", "t": 0.375, "v": -0.16}, {"s": "k3", "t": 0.5, "v": -0.9}, {"s": "k3", "t": 0.625, "v": 0.83}, {"s": "k3", "t": 0.75, "v": 0.5}, {"s": "k3", "t": 0.875, "v": -0.49}, {"s": "k3", "t": 1, "v": 1.39}, {"s": "k3", "t": 1.125, "v": 0.04}, {"s": "k3", "t": 1.25, "v": 1.05}, {"s": "k3", "t": 1.375, "v": -0.27}, {"s": "k3", "t": 1.5, "v": 0.9}, {"s": "k3", "t": 1.625, "v": 1.69}, {"s": "k3", "t": 1.75, "v": 0.4}, {"s": "k3", "t": 1.875, "v": 1.57}, {"s": "k3", "t": 2, "v": 0.77}, {"s": "k3", "t": 2.125, "v": 2.27}, {"s": "k3", "t": 2.25, "v": 0.62}, {"s": "k3", "t": 2.375, "v": 1.63}, {"s": "k3", "t": 2.5, "v": 2.11}, {"s": "k3", "t": 2.625, "v": 0.61}, {"s": "k3", "t": 2.75, "v": 1.58}, {"s": "k3", "t": 2.875, "v": 0.02}, {"s": "k3", "t": 3, "v": 1.82}, {"s": "k3", "t": 3.125, "v": 0.47}, {"s": "k3", "t": 3.25, "v": 1.21}, {"s": "k3", "t": 3.375, "v": -0.49}, {"s": "k3", "t": 3.5, "v": 0.54}, {"s": "k3", "t": 3.625, "v": 1.21}, {"s": "k3", "t": 3.75, "v": -0.45}, {"s": "k3", "t": 3.875, "v": 0.13}, {"s": "k3", "t": 4, "v": -1.24}, {"s": "k3", "t": 4.125, "v": 0.7}, {"s": "k3", "t": 4.25, "v": -0.47}, {"s": "k3", "t": 4.375, "v": 0.84}, {"s": "k3", "t": 4.5, "v": -0.85}, {"s": "k3", "t": 4.625, "v": 0.46}, {"s": "k3", "t": 4.75, "v": -0.17}, {"s": "k3", "t": 4.875, "v": 1.16}, {"s": "k3", "t": 5, "v": -0.91},
      {"s": "k4", "t": 0, "v": -0.78}, {"s": "k4", "t": 0.125, "v": 1.06}, {"s": "k4", "t": 0.25, "v": -0.34}, {"s": "k4", "t": 0.375, "v": 0.59}, {"s": "k4", "t": 0.5, "v": -0.81}, {"s": "k4", "t": 0.625, "v": 0.26}, {"s": "k4", "t": 0.75, "v": 0.95}, {"s": "k4", "t": 0.875, "v": -0.44}, {"s": "k4", "t": 1, "v": 0.64}, {"s": "k4", "t": 1.125, "v": -0.21}, {"s": "k4", "t": 1.25, "v": 1.29}, {"s": "k4", "t": 1.375, "v": -0.32}, {"s": "k4", "t": 1.5, "v": 0.81}, {"s": "k4", "t": 1.625, "v": 1.43}, {"s": "k4", "t": 1.75, "v": 0.1}, {"s": "k4", "t": 1.875, "v": 1.23}, {"s": "k4", "t": 2, "v": -0.12}, {"s": "k4", "t": 2.125, "v": 1.88}, {"s": "k4", "t": 2.25, "v": 0.74}, {"s": "k4", "t": 2.375, "v": 1.63}, {"s": "k4", "t": 2.5, "v": 0.04}, {"s": "k4", "t": 2.625, "v": 1.16}, {"s": "k4", "t": 2.75, "v": 1.89}, {"s": "k4", "t": 2.875, "v": 0.24}, {"s": "k4", "t": 3, "v": 0.78}, {"s": "k4", "t": 3.125, "v": -0.65}, {"s": "k4", "t": 3.25, "v": 1.18}, {"s": "k4", "t": 3.375, "v": -0.09}, {"s": "k4", "t": 3.5, "v": 1.11}, {"s": "k4", "t": 3.625, "v": -0.66}, {"s": "k4", "t": 3.75, "v": 0.57}, {"s": "k4", "t": 3.875, "v": -0.13}, {"s": "k4", "t": 4, "v": 1.12}, {"s": "k4", "t": 4.125, "v": -0.97}, {"s": "k4", "t": 4.25, "v": 0.33}, {"s": "k4", "t": 4.375, "v": -0.7}, {"s": "k4", "t": 4.5, "v": 0.73}, {"s": "k4", "t": 4.625, "v": -0.3}, {"s": "k4", "t": 4.75, "v": -1.07}, {"s": "k4", "t": 4.875, "v": 0.64}, {"s": "k4", "t": 5, "v": 0.26},
      {"s": "k5", "t": 0, "v": -0.65}, {"s": "k5", "t": 0.125, "v": 0.4}, {"s": "k5", "t": 0.25, "v": -0.49}, {"s": "k5", "t": 0.375, "v": 0.95}, {"s": "k5", "t": 0.5, "v": -0.72}, {"s": "k5", "t": 0.625, "v": 0.34}, {"s": "k5", "t": 0.75, "v": 0.88}, {"s": "k5", "t": 0.875, "v": -0.52}, {"s": "k5", "t": 1, "v": 0.54}, {"s": "k5", "t": 1.125, "v": -0.85}, {"s": "k5", "t": 1.25, "v": 1.14}, {"s": "k5", "t": 1.375, "v": 0.02}, {"s": "k5", "t": 1.5, "v": 0.98}, {"s": "k5", "t": 1.625, "v": -0.52}, {"s": "k5", "t": 1.75, "v": 0.71}, {"s": "k5", "t": 1.875, "v": 1.54}, {"s": "k5", "t": 2, "v": 0.03}, {"s": "k5", "t": 2.125, "v": 0.71}, {"s": "k5", "t": 2.25, "v": -0.57}, {"s": "k5", "t": 2.375, "v": 1.37}, {"s": "k5", "t": 2.5, "v": 0.18}, {"s": "k5", "t": 2.625, "v": 1.45}, {"s": "k5", "t": 2.75, "v": -0.27}, {"s": "k5", "t": 2.875, "v": 0.98}, {"s": "k5", "t": 3, "v": 0.26}, {"s": "k5", "t": 3.125, "v": 1.48}, {"s": "k5", "t": 3.25, "v": -0.67}, {"s": "k5", "t": 3.375, "v": 0.57}, {"s": "k5", "t": 3.5, "v": -0.53}, {"s": "k5", "t": 3.625, "v": 0.85}, {"s": "k5", "t": 3.75, "v": -0.23}, {"s": "k5", "t": 3.875, "v": -1.04}, {"s": "k5", "t": 4, "v": 0.62}, {"s": "k5", "t": 4.125, "v": 0.22}, {"s": "k5", "t": 4.25, "v": -0.82}, {"s": "k5", "t": 4.375, "v": 1.01}, {"s": "k5", "t": 4.5, "v": -0.42}, {"s": "k5", "t": 4.625, "v": 0.5}, {"s": "k5", "t": 4.75, "v": -0.93}, {"s": "k5", "t": 4.875, "v": 0.12}, {"s": "k5", "t": 5, "v": 0.78}
    ],
    "Cred": [
      {"s": "r1", "t": 1.45, "v": 2.6}, {"s": "r1", "t": 1.58, "v": 3.9}, {"s": "r1", "t": 1.7, "v": 4.4}, {"s": "r1", "t": 1.81, "v": 5.0}, {"s": "r1", "t": 1.9, "v": 4.8}, {"s": "r1", "t": 2.0, "v": 5.7}, {"s": "r1", "t": 2.08, "v": 6.4}, {"s": "r1", "t": 2.15, "v": 7.6}, {"s": "r1", "t": 2.2, "v": 9.0}, {"s": "r1", "t": 2.23, "v": 10.6}, {"s": "r1", "t": 2.31, "v": 13.1}, {"s": "r1", "t": 2.38, "v": 13.9}, {"s": "r1", "t": 2.45, "v": 14.2}, {"s": "r1", "t": 2.5, "v": 14.6}, {"s": "r1", "t": 2.56, "v": 13.8}, {"s": "r1", "t": 2.62, "v": 13.1}, {"s": "r1", "t": 2.73, "v": 12.4}, {"s": "r1", "t": 2.8, "v": 11.0}, {"s": "r1", "t": 2.85, "v": 9.8}, {"s": "r1", "t": 2.96, "v": 8.0}, {"s": "r1", "t": 3.02, "v": 7.0}, {"s": "r1", "t": 3.08, "v": 5.7}, {"s": "r1", "t": 3.19, "v": 4.1}, {"s": "r1", "t": 3.27, "v": 4.1}, {"s": "r1", "t": 3.32, "v": 5.7}, {"s": "r1", "t": 3.35, "v": 16.85},
      {"s": "r2", "t": 3.71, "v": 16.85}, {"s": "r2", "t": 3.71, "v": -7.04}
    ],
    "Clines": [
      {"t": 0.268, "v": 14.63, "t2": 0.268, "v2": 9.63},
      {"t": 0.268, "v": 9.63, "t2": 1.27, "v2": 9.63}
    ],
    "Ctext": [
      {"k": "bar", "label": "5 V/s", "t": 0.4226, "v": 12.08},
      {"k": "barc", "label": "1 ms", "t": 0.73, "v": 7.82},
      {"k": "letter", "label": "C", "t": -0.577, "v": 24.49}
    ],
    "Dpts": [
      {"x": 8.2, "y": 1.56, "g": "PSP"}, {"x": 16.2, "y": 2.4, "g": "PSP"}, {"x": 24.2, "y": 2.51, "g": "PSP"}, {"x": 32.3, "y": 3.49, "g": "PSP"}, {"x": 40.4, "y": 3.72, "g": "PSP"},
      {"x": 48.2, "y": 5.0, "g": "PSP"}, {"x": 48.2, "y": 4.45, "g": "PSP"}, {"x": 48.2, "y": 3.9, "g": "PSP"},
      {"x": 48.2, "y": 16.55, "g": "spike"}, {"x": 48.2, "y": 16.15, "g": "spike"}, {"x": 48.2, "y": 15.8, "g": "spike"}, {"x": 48.2, "y": 14.45, "g": "spike"}, {"x": 48.2, "y": 9.55, "g": "spike"}
    ],
    "Dell": [{"k": "spikes", "x": 48.16, "y": 13.64}, {"k": "PSPs", "x": 48.2, "y": 4.6}],
    "Dlines": [
      {"k": "axis", "x": -1.36, "y": -0.71, "x2": -1.36, "y2": 20},
      {"k": "lead", "x": 39.1, "y": 17.5, "x2": 44.2, "y2": 16.2},
      {"k": "lead", "x": 39.35, "y": 7.0, "x2": 44.3, "y2": 5.65}
    ],
    "Dtext": [
      {"k": "note", "label": "D spikes", "x": 38.58, "y": 17.62},
      {"k": "note", "label": "PSPs", "x": 38.24, "y": 7.67},
      {"k": "letter", "label": "D", "x": -17.11, "y": 19.95}
    ]
  }
}
